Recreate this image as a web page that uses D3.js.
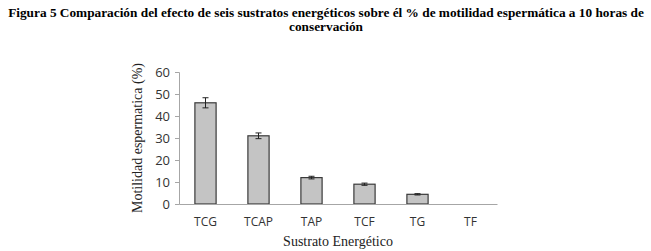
<!DOCTYPE html>
<html>
<head>
<meta charset="utf-8">
<script src="https://cdn.jsdelivr.net/npm/d3@7"></script>
<style>
  body { margin: 0; background: #fff; }
  svg { display: block; }
</style>
</head>
<body>
<div id="chart"></div>
<script>
"use strict";

const categories = ["TCG", "TCAP", "TAP", "TCF", "TG", "TF"];
const motilidad = [46, 31, 12, 9, 4.4, 0];
const errores = [2.3, 1.3, 0.6, 0.5, 0.3, 0];
const yTicks = [0, 10, 20, 30, 40, 50, 60];

const width = 651, height = 251;
const margin = { left: 179, right: 154, top: 72, bottom: 47 };

const svg = d3.select("#chart").append("svg")
  .attr("width", width)
  .attr("height", height);

// title
const title = svg.append("text")
  .attr("font-family", "'Liberation Serif', 'Times New Roman', serif")
  .attr("font-weight", "bold")
  .attr("font-size", 13.3)
  .attr("text-anchor", "middle")
  .attr("fill", "#000");
title.append("tspan").attr("x", 326).attr("y", 17)
  .text("Figura 5 Comparación del efecto de seis sustratos energéticos sobre él % de motilidad espermática a 10 horas de");
title.append("tspan").attr("x", 326).attr("y", 31).text("conservación");

const x = d3.scaleBand()
  .domain(categories)
  .range([margin.left, width - margin.right])
  .paddingInner(0.6)
  .paddingOuter(0.3);

const y = d3.scaleLinear()
  .domain([0, 60])
  .range([height - margin.bottom, margin.top]);

// y axis
const yAxis = svg.append("g")
  .attr("transform", `translate(${margin.left},0)`)
  .call(d3.axisLeft(y).tickValues(yTicks).tickSize(4).tickPadding(5));
yAxis.select(".domain").attr("stroke", "#a6a6a6");
yAxis.selectAll(".tick line").attr("stroke", "#a6a6a6");
yAxis.selectAll(".tick text")
  .attr("font-family", "'Open Sans', sans-serif")
  .attr("font-size", 13)
  .attr("fill", "#333");

// bars
svg.append("g").selectAll("rect")
  .data(categories)
  .join("rect")
  .attr("x", (d) => x(d))
  .attr("y", (d, i) => y(motilidad[i]))
  .attr("width", x.bandwidth())
  .attr("height", (d, i) => y(0) - y(motilidad[i]))
  .attr("fill", "#c4c4c4")
  .attr("stroke", "#3a3a3a")
  .attr("stroke-width", 1.2);

// error bars
const eb = svg.append("g").attr("stroke", "#222").attr("stroke-width", 1);
categories.forEach((c, i) => {
  if (errores[i] <= 0) return;
  const cx = x(c) + x.bandwidth() / 2;
  const y1 = y(motilidad[i] + errores[i]);
  const y2 = y(motilidad[i] - errores[i]);
  eb.append("line").attr("x1", cx).attr("x2", cx).attr("y1", y1).attr("y2", y2);
  eb.append("line").attr("x1", cx - 3).attr("x2", cx + 3).attr("y1", y1).attr("y2", y1);
  eb.append("line").attr("x1", cx - 3).attr("x2", cx + 3).attr("y1", y2).attr("y2", y2);
});

// x axis baseline + labels
const xAxis = svg.append("g")
  .attr("transform", `translate(0,${y(0)})`)
  .call(d3.axisBottom(x).tickSize(0).tickPadding(13));
xAxis.select(".domain").attr("stroke", "#a6a6a6");
xAxis.selectAll(".tick text")
  .attr("font-family", "'Open Sans', sans-serif")
  .attr("font-size", 12)
  .attr("fill", "#333");

// axis titles
svg.append("text")
  .attr("x", 338)
  .attr("y", 246)
  .attr("text-anchor", "middle")
  .attr("font-family", "'Liberation Serif', 'Times New Roman', serif")
  .attr("font-size", 14)
  .attr("fill", "#222")
  .text("Sustrato Energético");

svg.append("text")
  .attr("transform", `translate(142,${(y(0) + y(60)) / 2}) rotate(-90)`)
  .attr("text-anchor", "middle")
  .attr("font-family", "'Liberation Serif', 'Times New Roman', serif")
  .attr("font-size", 14)
  .attr("fill", "#222")
  .text("Motilidad espermatica (%)");
</script>
</body>
</html>
